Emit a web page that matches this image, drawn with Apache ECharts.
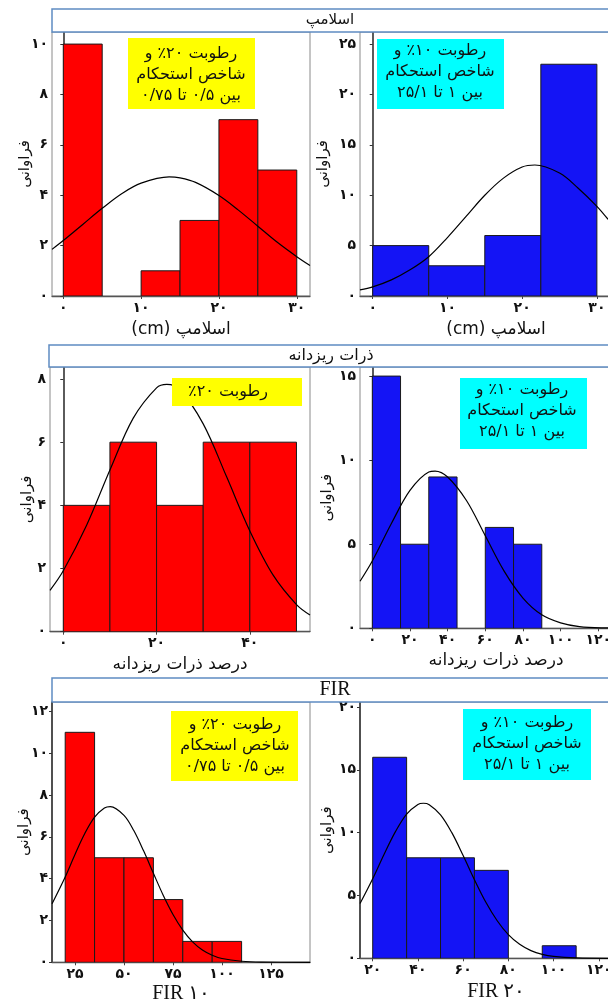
<!DOCTYPE html>
<html lang="fa">
<head>
<meta charset="utf-8">
<title>هیستوگرام‌ها</title>
<script src="https://cdn.jsdelivr.net/npm/echarts@6/dist/echarts.min.js"></script>
<style>
  html, body { margin: 0; padding: 0; background: #fff; }
  #chart { width: 608px; height: 1005px; }
</style>
</head>
<body>
<div id="chart"></div>
<script>
// ---- اسلامپ ----
const slump20Edges = [0, 5, 10, 15, 20, 25, 30];
const slump20Counts = [10, 0, 1, 3, 7, 5];
const slump20CurveX = [-1.45, 0, 2.5, 5, 7.5, 10, 13.6, 15, 17, 20, 22.5, 25, 27.5, 30, 31.7];
const slump20CurveY = [1.85, 2.2, 2.84, 3.48, 4.06, 4.48, 4.73, 4.69, 4.51, 3.99, 3.41, 2.77, 2.13, 1.56, 1.21];

const slump10Edges = [0, 7.5, 15, 22.5, 30];
const slump10Counts = [5, 3, 6, 23];
const slump10CurveX = [-1.7, 0, 2.5, 5, 7.5, 10, 12.5, 15, 17.5, 20, 21.7, 25, 27.5, 30, 31.5];
const slump10CurveY = [0.6, 0.9, 1.6, 2.6, 3.9, 5.8, 7.9, 10.0, 11.7, 12.8, 13.0, 12.2, 10.7, 8.9, 7.6];

// ---- ذرات ریزدانه ----
const fines20Edges = [0, 10, 20, 30, 40, 50];
const fines20Counts = [4, 6, 4, 6, 6];
const fines20CurveX = [-2.85, 0, 5, 10, 15, 20, 22.2, 25, 30, 35, 40, 45, 50, 52.9];
const fines20CurveY = [1.31, 1.93, 3.37, 5.12, 6.76, 7.72, 7.83, 7.66, 6.58, 4.91, 3.19, 1.79, 0.86, 0.53];

const fines10Edges = [0, 15, 30, 45, 60, 75, 90];
const fines10Counts = [15, 5, 9, 0, 6, 5];
const fines10CurveX = [-6.5, 0, 10, 20, 30, 33.3, 40, 50, 60, 70, 80, 90, 100, 110, 125, 138];
const fines10CurveY = [2.8, 4.0, 6.2, 8.2, 9.3, 9.35, 9.0, 7.6, 5.5, 3.4, 1.8, 0.8, 0.32, 0.1, 0.02, 0];

// ---- FIR ----
const fir10Edges = [20, 35, 50, 65, 80, 95, 110];
const fir10Counts = [11, 5, 5, 3, 1, 1];
const fir10CurveX = [13.3, 20, 25, 30, 35, 40, 43, 50, 55, 60, 65, 70, 75, 80, 85, 90, 95, 100, 110, 120, 145];
const fir10CurveY = [2.8, 4.08, 5.16, 6.16, 6.94, 7.38, 7.45, 7.03, 6.3, 5.33, 4.26, 3.21, 2.29, 1.54, 0.98, 0.59, 0.34, 0.18, 0.05, 0.01, 0];

const fir20Edges = [20, 35, 50, 65, 80, 95, 110];
const fir20Counts = [16, 8, 8, 7, 0, 1];
const fir20CurveX = [14.4, 20, 25, 30, 35, 40, 42.4, 45, 50, 55, 60, 65, 70, 75, 80, 85, 90, 95, 100, 110, 124, 135];
const fir20CurveY = [4.36, 6.33, 8.26, 10.06, 11.48, 12.25, 12.34, 12.23, 11.42, 10.0, 8.18, 6.26, 4.48, 3.01, 1.88, 1.11, 0.61, 0.31, 0.15, 0.03, 0, 0];

// تیک‌ها
const slump20XTicks = [0, 10, 20, 30];
const slump20YTicks = [0, 2, 4, 6, 8, 10];
const slump10XTicks = [0, 10, 20, 30];
const slump10YTicks = [0, 5, 10, 15, 20, 25];
const fines20XTicks = [0, 20, 40];
const fines20YTicks = [0, 2, 4, 6, 8];
const fines10XTicks = [0, 20, 40, 60, 80, 100, 120];
const fines10YTicks = [0, 5, 10, 15];
const fir10XTicks = [25, 50, 75, 100, 125];
const fir10YTicks = [0, 2, 4, 6, 8, 10, 12];
const fir20XTicks = [20, 40, 60, 80, 100, 120];
const fir20YTicks = [0, 5, 10, 15, 20];

const RED = '#ff0000';
const BLUE = '#1414f5';
const FA = "'DejaVu Sans', sans-serif";
const SERIF = "'Liberation Serif', 'DejaVu Sans', serif";
const RLM = '\u200F';

const fa = v => String(v).replace(/\d/g, d => '۰۱۲۳۴۵۶۷۸۹'[d]);
const rtl = s => s.split('\n').map(t => RLM + t + RLM).join('\n');

// چیدمان پنل‌ها (پیکسل)
const panels = [
  { edges: slump20Edges, counts: slump20Counts, cx: slump20CurveX, cy: slump20CurveY, xt: slump20XTicks, yt: slump20YTicks,
    color: RED, l: 52, r: 310, t: 32, b: 296, xMin: -1.45, xMax: 31.7, yMax: 10.48,
    xName: '(cm) اسلامپ', nameFont: FA, nameSize: 17, xGap: 25, yGap: 19 },
  { edges: slump10Edges, counts: slump10Counts, cx: slump10CurveX, cy: slump10CurveY, xt: slump10XTicks, yt: slump10YTicks,
    color: BLUE, l: 360, r: 632, t: 32, b: 296, xMin: -1.7, xMax: 34.7, yMax: 26.2,
    xName: '(cm) اسلامپ', nameFont: FA, nameSize: 17, xGap: 25, yGap: 29 },
  { edges: fines20Edges, counts: fines20Counts, cx: fines20CurveX, cy: fines20CurveY, xt: fines20XTicks, yt: fines20YTicks,
    color: RED, l: 50, r: 310, t: 367, b: 631.7, xMin: -2.85, xMax: 52.9, yMax: 8.38,
    xName: 'درصد ذرات ریزدانه', nameFont: FA, nameSize: 17, xGap: 24, yGap: 15 },
  { edges: fines10Edges, counts: fines10Counts, cx: fines10CurveX, cy: fines10CurveY, xt: fines10XTicks, yt: fines10YTicks,
    color: BLUE, l: 360, r: 632, t: 367, b: 628.3, xMin: -6.53, xMax: 137.9, yMax: 15.54,
    xName: 'درصد ذرات ریزدانه', nameFont: FA, nameSize: 17, xGap: 24, yGap: 25 },
  { edges: fir10Edges, counts: fir10Counts, cx: fir10CurveX, cy: fir10CurveY, xt: fir10XTicks, yt: fir10YTicks,
    color: RED, l: 52, r: 310, t: 702, b: 962.3, xMin: 13.27, xMax: 144.9, yMax: 12.45,
    xName: 'FIR ۱۰', nameFont: SERIF, nameSize: 20, xGap: 21, yGap: 20 },
  { edges: fir20Edges, counts: fir20Counts, cx: fir20CurveX, cy: fir20CurveY, xt: fir20XTicks, yt: fir20YTicks,
    color: BLUE, l: 360, r: 632, t: 702, b: 958.3, xMin: 14.38, xMax: 134.7, yMax: 20.4,
    xName: 'FIR ۲۰', nameFont: SERIF, nameSize: 20, xGap: 23, yGap: 25 }
];

const grid = [], xAxis = [], yAxis = [], series = [];
panels.forEach((p, i) => {
  grid.push({
    left: p.l, top: p.t, width: p.r - p.l, height: p.b - p.t,
    show: true, borderColor: '#8a8a8a', borderWidth: 1,
    containLabel: false, outerBoundsMode: 'none'
  });
  xAxis.push({
    type: 'value', gridIndex: i, min: p.xMin, max: p.xMax,
    axisLine: { show: true, onZero: false, lineStyle: { color: '#555', width: 1.3 } },
    axisTick: { show: true, length: 3, customValues: p.xt, lineStyle: { color: '#444' } },
    axisLabel: { customValues: p.xt, formatter: fa, color: '#111', fontSize: 14, fontFamily: FA, fontWeight: 'bold', margin: 5 },
    splitLine: { show: false },
    name: p.xName, nameLocation: 'middle', nameGap: p.xGap, nameMoveOverlap: false,
    nameTextStyle: { color: '#111', fontSize: p.nameSize, fontFamily: p.nameFont }
  });
  yAxis.push({
    type: 'value', gridIndex: i, min: 0, max: p.yMax,
    axisLine: { show: true, lineStyle: { color: '#333', width: 1.6 } },
    axisTick: { show: true, length: 3, customValues: p.yt, lineStyle: { color: '#333' } },
    axisLabel: { customValues: p.yt, formatter: fa, color: '#111', fontSize: 14, fontFamily: FA, fontWeight: 'bold', margin: 4 },
    splitLine: { show: false },
    name: 'فراوانی', nameLocation: 'middle', nameGap: p.yGap, nameRotate: 90, nameMoveOverlap: false,
    nameTextStyle: { color: '#111', fontSize: 15, fontFamily: FA }
  });
  const bars = p.counts
    .map((c, j) => [p.edges[j], p.edges[j + 1], c])
    .filter(d => d[2] > 0);
  series.push({
    type: 'custom', xAxisIndex: i, yAxisIndex: i, clip: true, silent: true,
    encode: { x: [0, 1], y: 2 },
    data: bars,
    renderItem: (params, api) => {
      const a = api.coord([api.value(0), api.value(2)]);
      const b = api.coord([api.value(1), 0]);
      return {
        type: 'rect',
        shape: { x: a[0], y: a[1], width: b[0] - a[0], height: b[1] - a[1] },
        style: { fill: p.color, stroke: '#1a1a1a', lineWidth: 1 }
      };
    },
    z: 2
  });
  series.push({
    type: 'line', xAxisIndex: i, yAxisIndex: i,
    data: p.cx.map((x, j) => [x, p.cy[j]]),
    smooth: 0.35, showSymbol: false, silent: true, clip: true,
    lineStyle: { color: '#000', width: 1.2 },
    z: 3
  });
});

// نوار عنوان هر ردیف و جعبه‌های توضیح
const headers = [
  { x: 52, y: 9, h: 23, text: 'اسلامپ', cx: 330, font: FA, size: 15 },
  { x: 49, y: 345, h: 22, text: 'ذرات ریزدانه', cx: 331, font: FA, size: 16 },
  { x: 52, y: 678, h: 24, text: 'FIR', cx: 335, font: SERIF, size: 20 }
];
const notes = [
  { x: 128, y: 38, w: 127, h: 71, fill: '#ffff00', cx: 191, cy: 75, text: 'رطوبت ۲۰٪ و\nشاخص استحکام\nبین ۰/۵ تا ۰/۷۵' },
  { x: 377, y: 39, w: 127, h: 70, fill: '#00ffff', cx: 440, cy: 72, text: 'رطوبت ۱۰٪ و\nشاخص استحکام\nبین ۱ تا ۲۵/۱' },
  { x: 172, y: 378, w: 130, h: 28, fill: '#ffff00', cx: 228, cy: 392, text: 'رطوبت ۲۰٪' },
  { x: 460, y: 378, w: 127, h: 71, fill: '#00ffff', cx: 522, cy: 411, text: 'رطوبت ۱۰٪ و\nشاخص استحکام\nبین ۱ تا ۲۵/۱' },
  { x: 171, y: 711, w: 127, h: 70, fill: '#ffff00', cx: 235, cy: 746, text: 'رطوبت ۲۰٪ و\nشاخص استحکام\nبین ۰/۵ تا ۰/۷۵' },
  { x: 463, y: 709, w: 128, h: 71, fill: '#00ffff', cx: 527, cy: 744, text: 'رطوبت ۱۰٪ و\nشاخص استحکام\nبین ۱ تا ۲۵/۱' }
];

const graphic = [];
headers.forEach(h => {
  graphic.push({ type: 'rect', z: 100, silent: true,
    shape: { x: h.x, y: h.y, width: 620 - h.x, height: h.h },
    style: { fill: '#fff', stroke: '#5f8cc2', lineWidth: 1.5 } });
  graphic.push({ type: 'text', z: 101, silent: true, x: h.cx, y: h.y + h.h / 2,
    style: { text: rtl(h.text), fill: '#111', fontSize: h.size, fontFamily: h.font,
      align: 'center', verticalAlign: 'middle', textAlign: 'center', textVerticalAlign: 'middle' } });
});
notes.forEach(n => {
  graphic.push({ type: 'rect', z: 100, silent: true,
    shape: { x: n.x, y: n.y, width: n.w, height: n.h },
    style: { fill: n.fill, stroke: null } });
  graphic.push({ type: 'text', z: 101, silent: true, x: n.cx, y: n.cy,
    style: { text: rtl(n.text), fill: '#111', fontSize: 16, fontFamily: FA, lineHeight: 21,
      align: 'center', verticalAlign: 'middle', textAlign: 'center', textVerticalAlign: 'middle' } });
});

const chart = echarts.init(document.getElementById('chart'), null, { renderer: 'canvas' });
chart.setOption({
  animation: false,
  backgroundColor: '#fff',
  textStyle: { fontFamily: FA },
  grid, xAxis, yAxis, series, graphic
});
</script>
</body>
</html>
